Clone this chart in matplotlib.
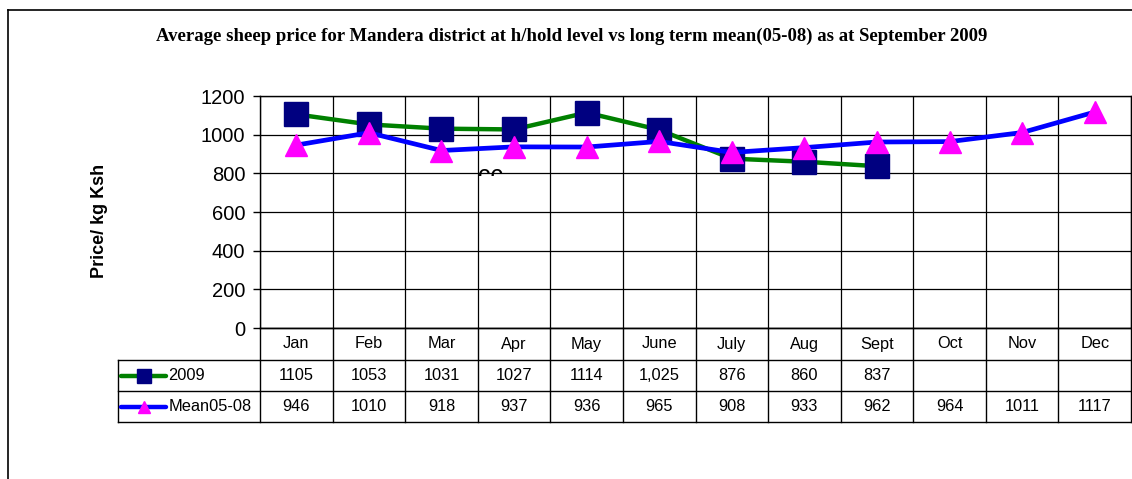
import matplotlib
matplotlib.use("Agg")
import matplotlib.pyplot as plt
import numpy as np
from matplotlib.lines import Line2D
from matplotlib.transforms import blended_transform_factory, Bbox, TransformedBbox

months = ["Jan", "Feb", "Mar", "Apr", "May", "June", "July", "Aug", "Sept", "Oct", "Nov", "Dec"]
series_2009 = [1105, 1053, 1031, 1027, 1114, 1025, 876, 860, 837, None, None, None]
labels_2009 = ["1105", "1053", "1031", "1027", "1114", "1,025", "876", "860", "837", "", "", ""]
series_mean = [946, 1010, 918, 937, 936, 965, 908, 933, 962, 964, 1011, 1117]
labels_mean = [str(v) for v in series_mean]
yticks = [0, 200, 400, 600, 800, 1000, 1200]
title = "Average sheep price for Mandera district at h/hold level vs long term mean(05-08) as at September 2009"
ylabel = "Price/ kg Ksh"

W, H = 1132, 479
fig = plt.figure(figsize=(W / 100, H / 100), dpi=100)
fig.patch.set_facecolor("white")

# plot area (pixel-based layout)
ax_l, ax_r, ax_t, ax_b = 260, 1131, 96, 328
ax = fig.add_axes([ax_l / W, (H - ax_b) / H, (ax_r - ax_l) / W, (ax_b - ax_t) / H])

x = np.arange(len(months)) + 0.5
y09 = np.array([np.nan if v is None else v for v in series_2009], dtype=float)
ymean = np.array(series_mean, dtype=float)

ax.plot(x, y09, color="#008000", lw=3.2, marker="s", ms=17, mfc="#000080", mec="#000080", zorder=3)
ax.plot(x, ymean, color="#0000FF", lw=3.4, marker="^", ms=16, mfc="#FF00FF", mec="#FF00FF", zorder=4)

ax.set_xlim(0, 12)
ax.set_ylim(0, 1200)
ax.set_yticks(yticks)
ax.set_yticklabels([str(t) for t in yticks], fontsize=14.5, family="Liberation Sans")
ax.set_xticks(np.arange(13))
ax.tick_params(axis="x", which="both", length=0, labelbottom=False)
ax.tick_params(axis="y", length=5, width=1, color="black", pad=5.5)
ax.grid(True, color="black", lw=0.9)
ax.set_axisbelow(True)
for s in ax.spines.values():
    s.set_color("black")
    s.set_linewidth(1)

# stray "cc" text, clipped
t = ax.text(3.0, 752, "cc", fontsize=18, family="Liberation Sans", va="baseline", ha="left", zorder=2)
t.set_clip_on(True)
t.set_clip_path(None)
t.set_clip_box(TransformedBbox(Bbox([[2.5, 786], [4.5, 1300]]), ax.transData))

# data table below the plot
tr = blended_transform_factory(ax.transData, ax.transAxes)
axh = ax_b - ax_t
colw = (ax_r - ax_l) / 12.0
def ya(py):
    return (ax_b - py) / axh
def xd(px):
    return (px - ax_l) / colw

row_b = [328, 360, 391, 422]
xlab = xd(118)
lc = dict(color="black", lw=1, transform=tr, clip_on=False)
for yy in row_b[1:]:
    ax.add_line(Line2D([xlab, 12], [ya(yy)] * 2, **lc))
ax.add_line(Line2D([0, 12], [ya(row_b[0])] * 2, **lc))
for i in range(13):
    ax.add_line(Line2D([i, i], [ya(row_b[0]), ya(row_b[3])], **lc))
ax.add_line(Line2D([xlab, xlab], [ya(row_b[1]), ya(row_b[3])], **lc))

fs = 11.8
for i, m in enumerate(months):
    ax.text(i + 0.5, ya((row_b[0] + row_b[1]) / 2), m, ha="center", va="center",
            fontsize=fs, family="Liberation Sans", transform=tr, clip_on=False)
    ax.text(i + 0.5, ya((row_b[1] + row_b[2]) / 2), labels_2009[i], ha="center", va="center",
            fontsize=fs, family="Liberation Sans", transform=tr, clip_on=False)
    ax.text(i + 0.5, ya((row_b[2] + row_b[3]) / 2), labels_mean[i], ha="center", va="center",
            fontsize=fs, family="Liberation Sans", transform=tr, clip_on=False)

# legend keys in table
for r, (lcol, mk, mfc, ms, name) in enumerate([
        ("#008000", "s", "#000080", 10, "2009"),
        ("#0000FF", "^", "#FF00FF", 9, "Mean05-08")]):
    yc = ya((row_b[r + 1] + row_b[r + 2]) / 2)
    ax.add_line(Line2D([xd(121), xd(166)], [yc, yc], color=lcol, lw=3.2, transform=tr,
                       clip_on=False, solid_capstyle="round"))
    ax.add_line(Line2D([xd(143.5)], [yc], marker=mk, ms=ms, mfc=mfc, mec=mfc, ls="none",
                       transform=tr, clip_on=False))
    ax.text(xd(168.5), yc, name, ha="left", va="center", fontsize=fs,
            family="Liberation Sans", transform=tr, clip_on=False)

# title and y label
fig.text(572 / W, 1 - 36 / H, title, ha="center", va="center", fontsize=13.5,
         family="Liberation Serif", fontweight="bold")
fig.text(100 / W, 1 - 221 / H, ylabel, ha="center", va="center", rotation=90,
         fontsize=13, family="Liberation Sans", fontweight="bold")

# outer chart border (top and left visible)
fig.add_artist(Line2D([8 / W, 1], [1 - 10 / H] * 2, color="black", lw=1.2, transform=fig.transFigure))
fig.add_artist(Line2D([8 / W, 8 / W], [0, 1 - 10 / H], color="black", lw=1.2, transform=fig.transFigure))

fig.savefig("out.png", dpi=100, facecolor="white")
